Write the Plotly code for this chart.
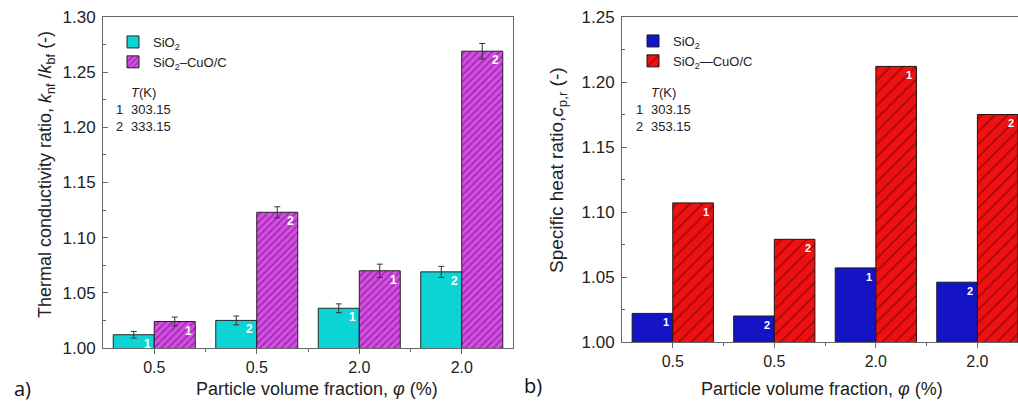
import plotly.graph_objects as go

categories = ["0.5", "0.5", "2.0", "2.0"]
# Panel a) thermal conductivity ratio
k_sio2 = [1.012, 1.025, 1.036, 1.069]
k_sio2_err = [0.003, 0.004, 0.004, 0.005]
k_hyb = [1.024, 1.123, 1.070, 1.269]
k_hyb_err = [0.004, 0.005, 0.006, 0.007]
temp_labels = ["1", "2", "1", "2"]
# Panel b) specific heat ratio
cp_sio2 = [1.022, 1.020, 1.057, 1.046]
cp_hyb = [1.107, 1.079, 1.212, 1.175]

a_temps = ["303.15", "333.15"]
b_temps = ["303.15", "353.15"]

FONT = "Liberation Sans, Arial, sans-serif"
W, H = 1018, 402
xpos = list(range(len(categories)))

fig = go.Figure()

# ---- panel a
fig.add_trace(go.Bar(
    x=xpos, y=k_sio2, name="SiO<sub>2</sub>", xaxis="x", yaxis="y",
    marker=dict(color="#0cd4d4", line=dict(color="#1e2a2a", width=1)),
    error_y=dict(type="data", array=k_sio2_err, color="#333333", thickness=1, width=3),
    legend="legend"))
fig.add_trace(go.Bar(
    x=xpos, y=k_hyb, name="SiO<sub>2</sub>–CuO/C", xaxis="x", yaxis="y",
    marker=dict(color="#d84ce8", line=dict(color="#2a1a2a", width=1),
                pattern=dict(shape="/", fgcolor="#4a1652", size=5, solidity=0.3)),
    error_y=dict(type="data", array=k_hyb_err, color="#333333", thickness=1, width=3),
    legend="legend"))

# ---- panel b
fig.add_trace(go.Bar(
    x=xpos, y=cp_sio2, name="SiO<sub>2</sub>", xaxis="x2", yaxis="y2",
    marker=dict(color="#1414c4", line=dict(color="#1a1a2a", width=1)),
    legend="legend2"))
fig.add_trace(go.Bar(
    x=xpos, y=cp_hyb, name="SiO<sub>2</sub>—CuO/C", xaxis="x2", yaxis="y2",
    marker=dict(color="#ee1111", line=dict(color="#2a1010", width=1),
                pattern=dict(shape="/", fgcolor="#5a0000", size=9, solidity=0.18)),
    legend="legend2"))

ann = []
# bar labels 1/2
for i, lab in enumerate(temp_labels):
    for xv, yv, ax, ay, fs in [(i, k_sio2[i], "x", "y", 12), (i + 0.4, k_hyb[i], "x", "y", 12),
                               (i, cp_sio2[i], "x2", "y2", 11), (i + 0.4, cp_hyb[i], "x2", "y2", 11)]:
        ann.append(dict(x=xv, y=yv, xref=ax, yref=ay, text="<b>%s</b>" % lab, showarrow=False,
                        xanchor="center", yanchor="middle", xshift=-7, yshift=-9,
                        font=dict(family=FONT, size=fs, color="white")))

# temperature tables
def temp_block(x0, temps):
    return [
        dict(x=x0 / W, y=1 - 83 / H, xref="paper", yref="paper", xanchor="left", yanchor="top",
             align="left", showarrow=False, text="\u00a0<br>1<br>2",
             font=dict(family=FONT, size=13, color="#222")),
        dict(x=(x0 + 15) / W, y=1 - 83 / H, xref="paper", yref="paper", xanchor="left", yanchor="top",
             align="left", showarrow=False,
             text="<i>T</i>(K)<br>%s<br>%s" % (temps[0], temps[1]),
             font=dict(family=FONT, size=13, color="#222")),
    ]
ann += temp_block(114, a_temps)
ann += temp_block(634, b_temps)

def paper_text(x, y, text, size=16, family=FONT, angle=0, color="#222"):
    return dict(x=x / W, y=1 - y / H, xref="paper", yref="paper", xanchor="center", yanchor="middle",
                textangle=angle, showarrow=False, text=text,
                font=dict(family=family, size=size, color=color))

ann.append(paper_text(47, 175, "Thermal conductivity ratio, <i>k</i><sub>nf</sub> /<i>k</i><sub>bf</sub> (-)", size=18, angle=-90))
ann.append(paper_text(558, 170, "Specific heat ratio,<i>c</i><sub>p,r</sub> (-)", size=19, angle=-90))
ann.append(paper_text(317, 389, "Particle volume fraction, <i>φ</i> (%)", size=18))
ann.append(paper_text(822, 389, "Particle volume fraction, <i>φ</i> (%)", size=18))
ann.append(paper_text(22, 388, "a)", size=20, family="Open Sans, sans-serif", color="#111"))
ann.append(paper_text(533, 385, "b)", size=20, family="Open Sans, sans-serif", color="#111"))

axis_common = dict(showline=True, linecolor="#666", linewidth=1, showgrid=False, zeroline=False,
                   automargin=False)
ytick_font = dict(family=FONT, size=17, color="#222")
xtick_font = dict(family=FONT, size=16, color="#222")

fig.update_layout(
    width=W, height=H, margin=dict(l=0, r=0, t=0, b=0, autoexpand=False),
    paper_bgcolor="white", plot_bgcolor="white",
    barmode="group", bargap=0.2, bargroupgap=0,
    xaxis=dict(domain=[103 / W, 513 / W], anchor="y", range=[-0.5, 3.5], mirror=True,
               tickmode="array", tickvals=xpos, ticktext=categories, tickfont=xtick_font,
               ticks="outside", ticklen=5, tickcolor="#666",
               minor=dict(tickvals=[0.5, 1.5, 2.5], ticks="outside", ticklen=3, tickcolor="#666"),
               **axis_common),
    yaxis=dict(domain=[1 - 348 / H, 1 - 17 / H], anchor="x", range=[1.0, 1.30], mirror=True,
               dtick=0.05, tick0=1.0, tickformat=".2f", ticks="inside", ticklen=5, tickcolor="#666",
               ticklabelstandoff=3, tickfont=ytick_font,
               minor=dict(dtick=0.025, ticks="inside", ticklen=3, tickcolor="#666"),
               **axis_common),
    xaxis2=dict(domain=[622 / W, 1.0], anchor="y2", range=[-0.5, 3.4], mirror=True,
                tickmode="array", tickvals=xpos, ticktext=categories, tickfont=xtick_font,
                ticks="outside", ticklen=5, tickcolor="#666",
                minor=dict(tickvals=[0.5, 1.5, 2.5], ticks="outside", ticklen=3, tickcolor="#666"),
                **axis_common),
    yaxis2=dict(domain=[1 - 342 / H, 1 - 17 / H], anchor="x2", range=[1.0, 1.25],
                dtick=0.05, tick0=1.0, tickformat=".2f", ticks="inside", ticklen=5, tickcolor="#666",
                ticklabelstandoff=3, tickfont=ytick_font,
                minor=dict(dtick=0.025, ticks="inside", ticklen=3, tickcolor="#666"),
                **axis_common),
    legend=dict(x=113 / W, y=1 - 27 / H, xanchor="left", yanchor="top", bgcolor="rgba(0,0,0,0)",
                font=dict(family=FONT, size=13, color="#222"), tracegroupgap=0),
    legend2=dict(x=633 / W, y=1 - 26 / H, xanchor="left", yanchor="top", bgcolor="rgba(0,0,0,0)",
                 font=dict(family=FONT, size=13, color="#222"), tracegroupgap=0),
    annotations=ann,
)

fig.write_html("out.html", config={"displayModeBar": False},
               post_script="document.body.style.margin='0';document.body.style.overflow='hidden';")
